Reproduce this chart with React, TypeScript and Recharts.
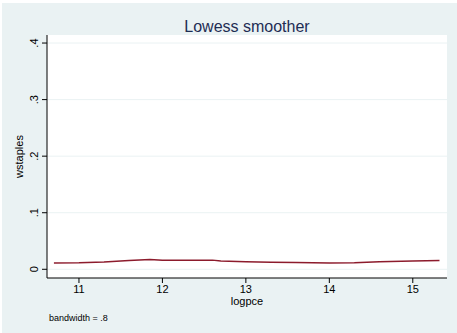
import React from "react";
import { LineChart, Line, XAxis, YAxis, CartesianGrid, Label } from "recharts";

const logpce = [10.7, 11, 11.3, 11.6, 11.85, 12, 12.3, 12.6, 12.7, 13, 13.3, 13.6, 14, 14.3, 14.6, 15, 15.32];
const wstaples = [0.011, 0.0115, 0.013, 0.0155, 0.0175, 0.016, 0.016, 0.0162, 0.0145, 0.0135, 0.0125, 0.012, 0.011, 0.0115, 0.0135, 0.0145, 0.0155];
const xTicks = [11, 12, 13, 14, 15];
const yTicks = [0, 0.1, 0.2, 0.3, 0.4];
const yTickLabels = ["0", ".1", ".2", ".3", ".4"];

const data = logpce.map((x, i) => ({ x, y: wstaples[i] }));

const FONT = "'Liberation Sans', Arial, sans-serif";

const YTick = (props: any) => {
  const { x, y, payload } = props;
  const idx = yTicks.indexOf(payload.value);
  const label = idx >= 0 ? yTickLabels[idx] : String(payload.value);
  return (
    <text
      x={x - 2}
      y={y}
      transform={`rotate(-90, ${x - 2}, ${y})`}
      textAnchor="middle"
      fontSize={11}
      fontFamily={FONT}
      fill="#000"
    >
      {label}
    </text>
  );
};

export default function App() {
  return (
    <div style={{ position: "fixed", left: 0, top: 0, width: 457, height: 333, background: "#fff" }}>
      <div style={{ position: "absolute", left: 2, top: 3, width: 455, height: 330, background: "#EAF2F3" }} />
      <div style={{ position: "absolute", left: 0, top: 0 }}>
        <LineChart width={457} height={333} data={data} margin={{ top: 35, right: 10, bottom: 0, left: 0 }}>
          <CartesianGrid vertical={false} horizontal={true} stroke="#EAF2F3" fill="#ffffff" horizontalValues={yTicks} />
          <XAxis
            dataKey="x"
            type="number"
            domain={[10.617, 15.41]}
            ticks={xTicks}
            allowDataOverflow
            height={55}
            stroke="#000"
            tickSize={5}
            tick={{ fontSize: 11, fontFamily: FONT, fill: "#000" }}
            tickLine={{ stroke: "#000" }}
          >
            <Label value="logpce" position="insideTop" offset={19} style={{ fontSize: 11, fontFamily: FONT, fill: "#000" }} />
          </XAxis>
          <YAxis
            type="number"
            domain={[-0.0154, 0.4142]}
            ticks={yTicks}
            allowDataOverflow
            width={47}
            stroke="#000"
            tickSize={5}
            tick={<YTick />}
            tickLine={{ stroke: "#000" }}
          >
            <Label value="wstaples" angle={-90} position="insideLeft" offset={19} style={{ fontSize: 11, fontFamily: FONT, fill: "#000", textAnchor: "middle" }} />
          </YAxis>
          <Line
            type="linear"
            dataKey="y"
            stroke="#8C1B2C"
            strokeWidth={1.5}
            dot={false}
            isAnimationActive={false}
          />
          <text x={247} y={32} textAnchor="middle" fontSize={16} fontFamily={FONT} fill="#1E2D53">
            Lowess smoother
          </text>
          <text x={49} y={321} textAnchor="start" fontSize={9} fontFamily={FONT} fill="#000">
            bandwidth = .8
          </text>
        </LineChart>
      </div>
    </div>
  );
}
